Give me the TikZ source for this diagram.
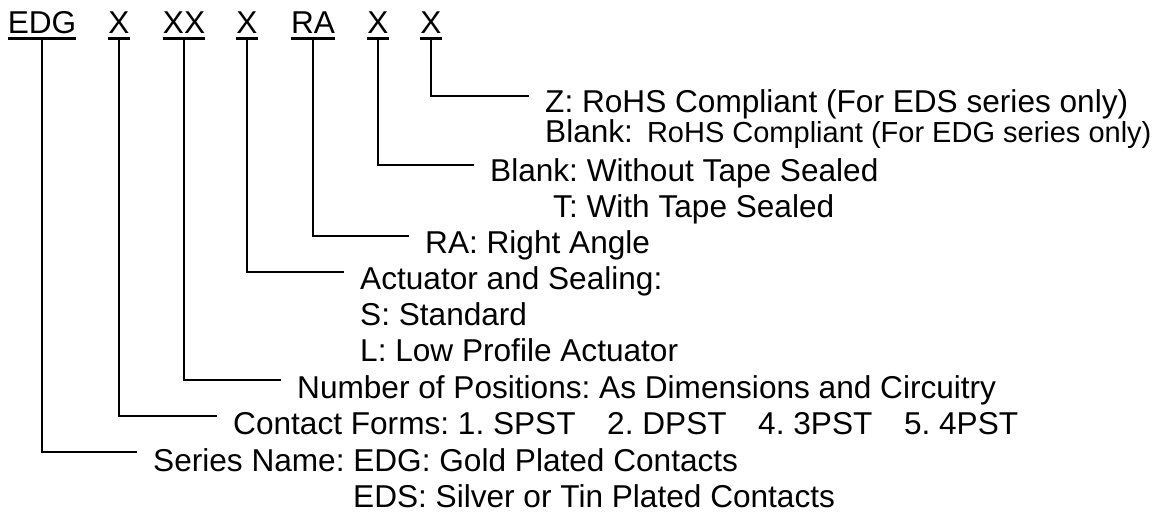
\documentclass[tikz,border=0pt]{standalone}
\usepackage{fontspec}
\setmainfont{Liberation Sans}
\usetikzlibrary{calc}
\frenchspacing
\begin{document}
\begin{tikzpicture}[x=1pt,y=-1pt,
  title/.style={inner sep=0pt, anchor=base, font=\fontsize{31.6}{36}\selectfont\frenchspacing},
  desc/.style={inner sep=0pt, anchor=base west, font=\fontsize{31.6}{36}\selectfont\frenchspacing},
  conn/.style={line width=1.5pt},
  ul/.style={line width=2.6pt}]
\useasboundingbox (0,0) rectangle (1161,517);
% part number fields
\node[title] (t1) at (42,33) {EDG};
\node[title] (t2) at (119,33) {X};
\node[title] (t3) at (184,33) {XX};
\node[title] (t4) at (247,33) {X};
\node[title] (t5) at (313,33) {RA};
\node[title] (t6) at (378,33) {X};
\node[title] (t7) at (431,33) {X};
\foreach \n in {t1,t2,t3,t4,t5,t6,t7}
  \draw[ul] ([yshift=-5pt]\n.south west) -- ([yshift=-5pt]\n.south east);
% descriptions
\node[desc] (d7a) at (545,112) {Z: RoHS Compliant (For EDS series only)};
\node[desc] (d7b) at (545,142) {Blank:\hspace{14pt}{\fontsize{29}{32}\selectfont RoHS Compliant (For EDG series only)}};
\node[desc] (d6a) at (490,181) {Blank: Without Tape Sealed};
\node[desc] (d6b) at (553,217) {T: With Tape Sealed};
\node[desc] (d5) at (425,253) {RA: Right Angle};
\node[desc] (d4a) at (360,289) {Actuator and Sealing:};
\node[desc] (d4b) at (360,325) {S: Standard};
\node[desc] (d4c) at (360,361) {L: Low Profile Actuator};
\node[desc] (d3) at (297,398) {Number of Positions: As Dimensions and Circuitry};
\node[desc] (d2) at (233,434) {Contact Forms: 1. SPST\hspace{1em}2. DPST\hspace{1em}4. 3PST\hspace{1em}5. 4PST};
\node[desc] (d1a) at (153,471) {Series Name: EDG: Gold Plated Contacts};
\node[desc] (d1b) at (353,507) {EDS: Silver or Tin Plated Contacts};
% connectors
\draw[conn] ([yshift=-5pt]t7.south) |- ($(d7a.base west)+(-16,-16)$);
\draw[conn] ([yshift=-5pt]t6.south) |- ($(d6a.base west)+(-16,-16)$);
\draw[conn] ([yshift=-5pt]t5.south) |- ($(d5.base west)+(-16,-17)$);
\draw[conn] ([yshift=-5pt]t4.south) |- ($(d4a.base west)+(-16,-17)$);
\draw[conn] ([yshift=-5pt]t3.south) |- ($(d3.base west)+(-16,-18)$);
\draw[conn] ([yshift=-5pt]t2.south) |- ($(d2.base west)+(-16,-18)$);
\draw[conn] ([yshift=-5pt]t1.south) |- ($(d1a.base west)+(-16,-19)$);
\end{tikzpicture}
\end{document}
